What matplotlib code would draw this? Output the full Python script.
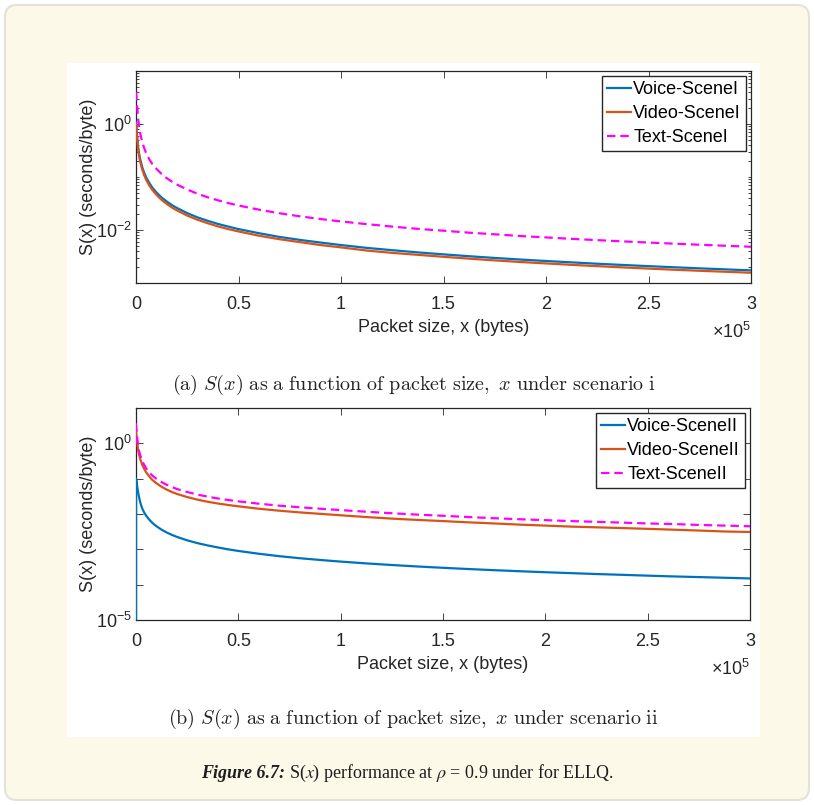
import numpy as np
import matplotlib
matplotlib.use('Agg')
import matplotlib.pyplot as plt
from matplotlib.patches import FancyBboxPatch, Rectangle
from matplotlib.ticker import FixedLocator, FuncFormatter, NullLocator, LogLocator, NullFormatter

plt.rcParams['font.family'] = ['Liberation Sans', 'DejaVu Sans']
plt.rcParams['mathtext.fontset'] = 'custom'
plt.rcParams['mathtext.rm'] = 'Liberation Sans'
plt.rcParams['mathtext.it'] = 'Liberation Sans:italic'
plt.rcParams['mathtext.bf'] = 'Liberation Sans:bold'

# ---------------- data ----------------
x_a = [0, 250, 500, 1000, 1500, 2000, 3000, 4000, 5000, 6500, 8000, 10000, 12500,
       15000, 17500, 20000, 25000, 30000, 35000, 40000, 45000, 50000, 60000,
       70000, 80000, 90000, 100000, 112500, 125000, 137500, 150000, 162500,
       175000, 187500, 200000, 212500, 225000, 237500, 250000, 262500, 275000,
       287500, 300000]
voice_a = [1.1, 0.85, 0.62, 0.38, 0.28, 0.22, 0.155, 0.12, 0.098, 0.077, 0.063,
           0.051, 0.041, 0.0345, 0.0295, 0.026, 0.0208, 0.0173, 0.0149, 0.013,
           0.0116, 0.0104, 0.0087, 0.0074, 0.0065, 0.0058, 0.0052, 0.0046,
           0.00416, 0.00378, 0.00347, 0.0032, 0.00297, 0.00277, 0.0026,
           0.00245, 0.00231, 0.00219, 0.00208, 0.00198, 0.00189, 0.00181,
           0.00173]
video_a = [1.0, 0.77, 0.56, 0.34, 0.25, 0.198, 0.14, 0.108, 0.088, 0.069, 0.057,
           0.046, 0.037, 0.031, 0.0266, 0.0234, 0.0187, 0.0156, 0.0134, 0.0117,
           0.0104, 0.0094, 0.0078, 0.0067, 0.0059, 0.0052, 0.0047, 0.0041,
           0.0037, 0.0034, 0.00312, 0.00288, 0.00267, 0.00249, 0.00234,
           0.0022, 0.00208, 0.00197, 0.00187, 0.00178, 0.0017, 0.00163,
           0.00156]
text_a = [4.0, 3.2, 2.4, 1.3, 0.9, 0.68, 0.46, 0.35, 0.28, 0.215, 0.175, 0.142,
          0.114, 0.095, 0.082, 0.072, 0.058, 0.0483, 0.0414, 0.0363, 0.0322,
          0.029, 0.0242, 0.0207, 0.0181, 0.0161, 0.0145, 0.0129, 0.0116,
          0.0105, 0.0097, 0.0089, 0.0083, 0.0077, 0.00725, 0.0068, 0.00644,
          0.0061, 0.0058, 0.00552, 0.00527, 0.00504, 0.00483]

x_b = [0, 50, 250, 500, 1000, 1500, 2000, 3000, 4000, 5000, 6500, 8000, 10000,
       12500, 15000, 17500, 20000, 25000, 30000, 35000, 40000, 45000, 50000,
       60000, 70000, 80000, 90000, 100000, 112500, 125000, 137500, 150000,
       162500, 175000, 187500, 200000, 212500, 225000, 237500, 250000, 262500,
       275000, 287500, 300000]
voice_b = [1e-7, 0.1, 0.085, 0.066, 0.042, 0.03, 0.022, 0.0145, 0.011, 0.0089,
           0.0069, 0.0056, 0.0045, 0.0036, 0.003, 0.00257, 0.00225, 0.0018,
           0.0015, 0.00129, 0.00113, 0.001, 0.0009, 0.00075, 0.00064, 0.00056,
           0.0005, 0.00045, 0.0004, 0.00036, 0.000327, 0.0003, 0.000277,
           0.000257, 0.00024, 0.000225, 0.000212, 0.0002, 0.00019, 0.00018,
           0.000171, 0.000164, 0.000157, 0.00015]
video_b = [2.3, 2.1, 1.6, 1.15, 0.68, 0.48, 0.37, 0.25, 0.19, 0.15, 0.115, 0.092,
           0.074, 0.059, 0.049, 0.042, 0.037, 0.0302, 0.0255, 0.0222, 0.0198,
           0.018, 0.0165, 0.0141, 0.0124, 0.0111, 0.0101, 0.0092, 0.0082,
           0.0074, 0.0068, 0.0063, 0.0058, 0.0054, 0.005, 0.0047, 0.0044,
           0.0042, 0.004, 0.0038, 0.0036, 0.0034, 0.0032, 0.0031]
text_b = [3.7, 3.3, 2.3, 1.55, 0.88, 0.62, 0.47, 0.32, 0.245, 0.195, 0.15, 0.122,
          0.099, 0.08, 0.067, 0.058, 0.051, 0.042, 0.0355, 0.031, 0.0275,
          0.0249, 0.0228, 0.0196, 0.0172, 0.0155, 0.0141, 0.0129, 0.0116,
          0.0105, 0.0096, 0.0089, 0.0082, 0.0076, 0.0071, 0.0067, 0.0063,
          0.006, 0.0057, 0.0054, 0.0052, 0.0049, 0.0047, 0.0045]

labels_a = ['Voice-SceneI', 'Video-SceneI', 'Text-SceneI']
labels_b = ['Voice-SceneII', 'Video-SceneII', 'Text-SceneII']

xticks = [0, 50000, 100000, 150000, 200000, 250000, 300000]
yticks_a = [1e-2, 1e0]
ylabeled_a = [1e-2, 1e0]
yticks_b = [1e-5, 1e-4, 1e-3, 1e-2, 1e-1, 1e0, 1e1]
ylabeled_b = [1e-5, 1e0]

caption_a = r'$\mathrm{(a)}\ S(x)\ \mathrm{as\ a\ function\ of\ packet\ size,}\ x\ \mathrm{under\ scenario\ i}$'
caption_b = r'$\mathrm{(b)}\ S(x)\ \mathrm{as\ a\ function\ of\ packet\ size,}\ x\ \mathrm{under\ scenario\ ii}$'
fig_cap_bold = 'Figure 6.7:'
fig_cap_rest = r'S($x$) performance at $\rho$ = 0.9 under for ELLQ.'

# ---------------- figure ----------------
W, H = 814, 805
fig = plt.figure(figsize=(W / 100, H / 100), dpi=100, facecolor='white')

card = FancyBboxPatch((0.05, 0.05), 8.04, 7.95, boxstyle='round,pad=0,rounding_size=0.12',
                      transform=fig.dpi_scale_trans, facecolor='#FDF9E8',
                      edgecolor='#E4E2D8', linewidth=1.5, zorder=-10)
fig.add_artist(card)
white = Rectangle((0.67, 0.68), 6.93, 6.74, transform=fig.dpi_scale_trans,
                  facecolor='white', edgecolor='none', zorder=-9)
fig.add_artist(white)

AX_COL = '#262626'
BLUE = '#0072BD'
ORANGE = '#D95319'
MAG = '#FF00FF'
FS = 13


def style_axes(ax, yticks, ylabeled, minor, xl_y):
    ax.set_yscale('log')
    ax.set_xlim(0, 300000)
    ax.xaxis.set_major_locator(FixedLocator(xticks))
    ax.xaxis.set_major_formatter(FuncFormatter(lambda v, p: '%g' % (v / 1e5)))
    ax.xaxis.set_minor_locator(NullLocator())
    ax.yaxis.set_major_locator(FixedLocator(yticks))

    def yf(v, p):
        if any(abs(np.log10(v) - np.log10(t)) < 1e-6 for t in ylabeled):
            return r'$\mathdefault{10^{%d}}$' % int(round(np.log10(v)))
        return ''
    ax.yaxis.set_major_formatter(FuncFormatter(yf))
    if minor:
        ax.yaxis.set_minor_locator(LogLocator(base=10, subs=np.arange(1, 10), numticks=50))
        ax.yaxis.set_minor_formatter(NullFormatter())
    else:
        ax.yaxis.set_minor_locator(NullLocator())
    ax.tick_params(which='both', direction='in', top=True, right=True, color=AX_COL,
                   labelcolor=AX_COL, labelsize=FS, width=0.6)
    ax.tick_params(which='major', length=5)
    ax.tick_params(which='minor', length=2.5)
    ax.tick_params(axis='x', pad=9)
    ax.tick_params(axis='y', pad=3)
    for s in ax.spines.values():
        s.set_color(AX_COL)
        s.set_linewidth(0.9)
    ax.set_xlabel('Packet size, x (bytes)', fontsize=FS, color=AX_COL)
    ax.set_ylabel('S(x) (seconds/byte)', fontsize=FS, color=AX_COL)
    ax.xaxis.set_label_coords(0.5, xl_y)
    ax.yaxis.set_label_coords(-0.064, 0.5)
    ax.text(1.0, -0.232, r'$\times\mathdefault{10^{5}}$', transform=ax.transAxes,
            ha='right', va='center', fontsize=FS, color=AX_COL)


def draw(ax, x, v, vd, t, labels):
    ax.plot(x, v, color=BLUE, lw=1.6, label=labels[0], zorder=3)
    ax.plot(x, vd, color=ORANGE, lw=1.6, label=labels[1], zorder=3)
    ax.plot(x, t, color=MAG, lw=1.6, ls=(0, (3.8, 2.2)), label=labels[2], zorder=3)


# panel (a)
ax1 = fig.add_axes([136 / W, 1 - 283 / H, 615 / W, 212 / H])
draw(ax1, x_a, voice_a, video_a, text_a, labels_a)
ax1.set_ylim(1e-3, 1e1)
style_axes(ax1, yticks_a, ylabeled_a, True, -0.172)

# panel (b)
ax2 = fig.add_axes([136 / W, 1 - 620 / H, 614 / W, 212 / H])
draw(ax2, x_b, voice_b, video_b, text_b, labels_b)
ax2.set_ylim(1e-5, 1e1)
style_axes(ax2, yticks_b, ylabeled_b, False, -0.168)

for ax in (ax1, ax2):
    leg = ax.legend(loc='upper right', fontsize=FS, frameon=True, fancybox=False,
                    edgecolor=AX_COL, framealpha=1, handlelength=1.35,
                    handletextpad=0.12, borderpad=0.25, labelspacing=0.4,
                    borderaxespad=0.3)
    leg.get_frame().set_linewidth(1.0)
    leg.set_zorder(5)
    for t in leg.get_texts():
        t.set_color('black')

# captions
fig.text(0.5 * (67 + 760) / W, 1 - 385 / H, caption_a, math_fontfamily='cm',
         fontsize=14.5, ha='center', va='center', color='#222222')
fig.text(0.5 * (67 + 760) / W, 1 - 719 / H, caption_b, math_fontfamily='cm',
         fontsize=14.5, ha='center', va='center', color='#222222')

yb = 1 - 778 / H
t1 = fig.text(0, yb, fig_cap_bold, family='Liberation Serif', weight='bold',
              style='italic', fontsize=13, ha='left', va='baseline', color='#1e1e1e')
t2 = fig.text(0, yb, fig_cap_rest, family='Liberation Serif', math_fontfamily='stix',
              fontsize=13, ha='left', va='baseline', color='#1e1e1e')
fig.canvas.draw()
r = fig.canvas.get_renderer()
w1 = t1.get_window_extent(r).width
w2 = t2.get_window_extent(r).width
gap = 4
total = w1 + gap + w2
x0 = 407 - total / 2
t1.set_x(x0 / W)
t2.set_x((x0 + w1 + gap) / W)

fig.savefig('out.png', dpi=100, facecolor='white')
